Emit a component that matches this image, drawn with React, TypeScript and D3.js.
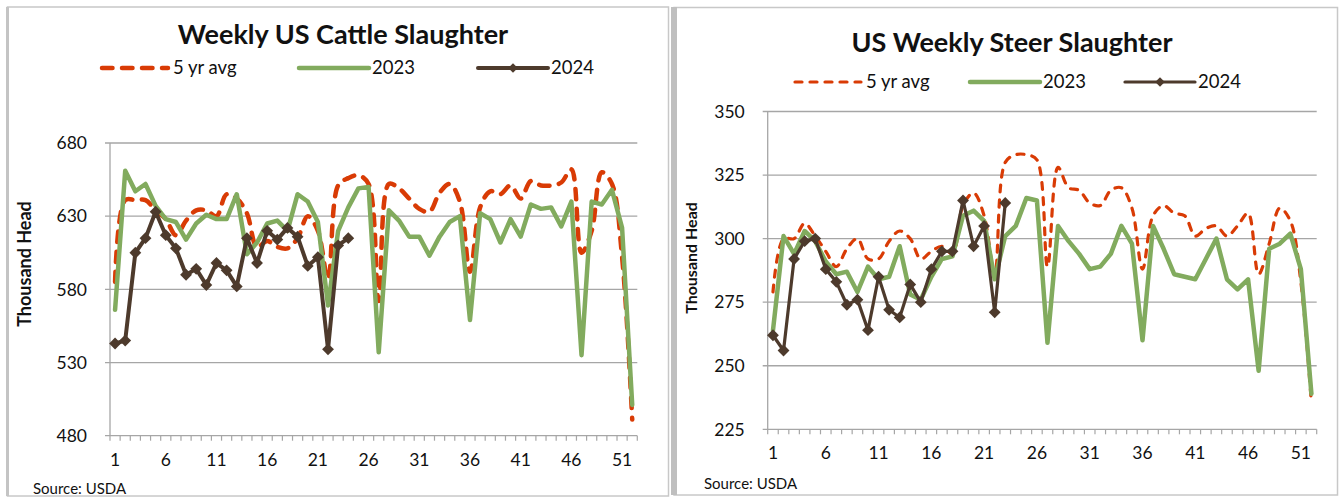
import * as d3 from 'd3';

// week numbers on the category axis
const weeks = Array.from({ length: 52 }, (_, i) => i + 1);
const xTickLabels = [1, 6, 11, 16, 21, 26, 31, 36, 41, 46, 51];

// Weekly US cattle slaughter, thousand head
const cattleTicks = [480, 530, 580, 630, 680];
const cattleAvg = [
  585, 641, 641, 641, 634, 628, 617, 627, 634, 634, 630, 645, 642, 632, 609, 613, 609, 608, 615, 630,
  620, 587, 651, 656, 658, 652, 572, 652, 649, 642, 635, 633, 646, 652, 640, 592, 636, 647, 645, 651,
  642, 654, 651, 651, 653, 662, 605, 620, 660, 652, 602, 491
];
const cattle2023 = [
  566, 661, 647, 652, 637, 628, 626, 614, 625, 631, 628, 628, 645, 604, 612, 625, 627, 620, 645, 640,
  626, 569, 620, 636, 649, 650, 537, 634, 627, 616, 616, 603, 616, 626, 630, 559, 632, 628, 612, 628,
  616, 638, 635, 636, 623, 640, 535, 640, 638, 648, 622, 501
];
const cattle2024 = [
  543, 545, 605, 615, 633, 617, 608, 590, 594, 583, 598, 593, 582, 615, 598, 620, 614, 622, 616, 596,
  602, 539, 610, 615
];

// US weekly steer slaughter, thousand head
const steerTicks = [225, 250, 275, 300, 325, 350];
const steerAvg = [
  279, 300, 300, 306, 301, 295, 289, 296, 300, 292, 292, 299, 303, 300, 292, 295, 297, 294, 313, 318,
  309, 286, 330, 333, 333, 331, 289, 328, 320, 319, 314, 313, 319, 320, 312, 288, 309, 313, 310, 309,
  301, 304, 305, 301, 305, 310, 286, 298, 312, 307, 283, 235
];
const steer2023 = [
  264, 301, 294, 303, 299, 291, 286, 287, 279, 289, 284, 285, 297, 278, 276, 285, 292, 293, 309, 311,
  307, 284, 301, 305, 316, 315, 259, 305, 299, 294, 288, 289, 294, 305, 298, 260, 305, 296, 286, 285,
  284, 292, 300, 284, 280, 284, 248, 296, 298, 302, 288, 239
];
const steer2024 = [
  262, 256, 292, 299, 300, 288, 283, 274, 276, 264, 285, 272, 269, 282, 275, 288, 295, 295, 315, 297,
  305, 271, 314
];

const seriesNames = ['5 yr avg', '2023', '2024'];

const AVG = '#D93B05';
const GREEN = '#82AB5E';
const BROWN = '#4D3A2C';
const GRID = '#A6A6A6';
const FONT = 'Lato, "Open Sans", sans-serif';

type ChartProps = {
  title: string;
  titleX: number;
  titleY: number;
  left: number;
  right: number;
  top: number;
  bottom: number;
  domain: [number, number];
  ticks: number[];
  avg: number[];
  y2023: number[];
  y2024: number[];
  legendY: number;
  legendX: number[];
  avgWidth: number;
  avgDash: string;
  greenWidth: number;
  brownWidth: number;
  yTitleX: number;
  yTitleY: number;
  yTitleSize: number;
  sourceX: number;
  sourceY: number;
};

function Chart(p: ChartProps) {
  const x = d3.scaleBand<number>().domain(weeks).range([p.left, p.right]).paddingInner(0);
  const y = d3.scaleLinear().domain(p.domain).range([p.bottom, p.top]);
  const cx = (i: number) => (x(weeks[i]) as number) + x.bandwidth() / 2;

  const straight = d3
    .line<number>()
    .x((_, i) => cx(i))
    .y((d) => y(d));
  const smooth = d3
    .line<number>()
    .x((_, i) => cx(i))
    .y((d) => y(d))
    .curve(d3.curveCatmullRom.alpha(0.5));

  const diamond = d3.symbol().type(d3.symbolSquare).size(70)() as string;
  const boundaries = d3.range(weeks.length + 1).map((i) => p.left + i * x.bandwidth());
  const legendLen = 70;

  return (
    <g fontFamily={FONT}>
      <text x={p.titleX} y={p.titleY} textAnchor="middle" fontSize={27} fontWeight={700} fill="#111">
        {p.title}
      </text>

      {/* legend */}
      {seriesNames.map((name, i) => {
        const lx = p.legendX[i];
        return (
          <g key={name}>
            {i === 0 && (
              <line
                x1={lx + 2}
                x2={lx + legendLen - 2}
                y1={p.legendY}
                y2={p.legendY}
                stroke={AVG}
                strokeWidth={p.avgWidth}
                strokeDasharray={p.avgDash}
                strokeLinecap="round"
              />
            )}
            {i === 1 && (
              <line x1={lx} x2={lx + legendLen} y1={p.legendY} y2={p.legendY} stroke={GREEN} strokeWidth={p.greenWidth} strokeLinecap="round" />
            )}
            {i === 2 && (
              <g>
                <line x1={lx} x2={lx + legendLen} y1={p.legendY} y2={p.legendY} stroke={BROWN} strokeWidth={p.brownWidth} strokeLinecap="round" />
                <path d={diamond} transform={`translate(${lx + legendLen / 2},${p.legendY}) rotate(45) scale(0.8)`} fill={BROWN} />
              </g>
            )}
            <text x={lx + legendLen + 3} y={p.legendY} dy="0.35em" fontSize={18.5} fill="#111">
              {name}
            </text>
          </g>
        );
      })}

      {/* gridlines and y labels */}
      {p.ticks.map((t) => (
        <g key={t}>
          <line x1={p.left - 5} x2={p.right} y1={y(t)} y2={y(t)} stroke={GRID} strokeWidth={1.3} />
          <text x={p.left - 23} y={y(t)} dy="0.36em" textAnchor="end" fontSize={17.5} fill="#111">
            {t}
          </text>
        </g>
      ))}
      <line x1={p.left} x2={p.left} y1={p.top} y2={p.bottom} stroke={GRID} strokeWidth={1.3} />

      {/* x axis */}
      {boundaries.map((bx, i) => (
        <line key={i} x1={bx} x2={bx} y1={p.bottom} y2={p.bottom + 5} stroke={GRID} strokeWidth={1.2} />
      ))}
      {xTickLabels.map((w) => (
        <text key={w} x={cx(w - 1)} y={p.bottom + 30} textAnchor="middle" fontSize={17.5} fill="#111">
          {w}
        </text>
      ))}

      <text
        transform={`translate(${p.yTitleX},${p.yTitleY}) rotate(-90)`}
        textAnchor="middle"
        dy="0.35em"
        fontSize={p.yTitleSize}
        fontWeight={700}
        fill="#111"
      >
        Thousand Head
      </text>

      {/* series */}
      <path
        d={smooth(p.avg) as string}
        fill="none"
        stroke={AVG}
        strokeWidth={p.avgWidth}
        strokeDasharray={p.avgDash}
        strokeLinecap="round"
      />
      <path d={straight(p.y2023) as string} fill="none" stroke={GREEN} strokeWidth={p.greenWidth} strokeLinejoin="round" strokeLinecap="round" />
      <path d={straight(p.y2024) as string} fill="none" stroke={BROWN} strokeWidth={p.brownWidth} strokeLinejoin="round" />
      {p.y2024.map((v, i) => (
        <path key={i} d={diamond} transform={`translate(${cx(i)},${y(v)}) rotate(45)`} fill={BROWN} />
      ))}

      <text x={p.sourceX} y={p.sourceY} fontSize={15} fill="#111">
        Source: USDA
      </text>
    </g>
  );
}

export default function App(): JSX.Element {
  return (
    <div style={{ position: 'absolute', left: 0, top: 0 }}>
      <svg xmlns="http://www.w3.org/2000/svg" width={1340} height={497} style={{ display: 'block', background: '#fff' }}>
        {/* panel frames */}
        <rect x={7.5} y={7} width={661} height={489} fill="none" stroke="#C8C8C8" strokeWidth={1.5} />
        <line x1={7.5} x2={7.5} y1={7} y2={496} stroke="#C4C4C4" strokeWidth={3} />
        <rect x={674} y={7.5} width={663.5} height={487.5} fill="none" stroke="#C8C8C8" strokeWidth={1.5} />
        <line x1={674} x2={674} y1={7} y2={495} stroke="#BFBFBF" strokeWidth={6} />

        <Chart
          title="Weekly US Cattle Slaughter"
          titleX={343}
          titleY={44}
          left={110}
          right={637.3}
          top={143}
          bottom={435.7}
          domain={[480, 680]}
          ticks={cattleTicks}
          avg={cattleAvg}
          y2023={cattle2023}
          y2024={cattle2024}
          legendY={68}
          legendX={[100, 299, 478]}
          avgWidth={4.5}
          avgDash="10.5 9.5"
          greenWidth={4.5}
          brownWidth={4}
          yTitleX={25}
          yTitleY={264}
          yTitleSize={18}
          sourceX={33}
          sourceY={494}
        />
        <Chart
          title="US Weekly Steer Slaughter"
          titleX={1012}
          titleY={52}
          left={767.7}
          right={1316.7}
          top={111.5}
          bottom={429.3}
          domain={[225, 350]}
          ticks={steerTicks}
          avg={steerAvg}
          y2023={steer2023}
          y2024={steer2024}
          legendY={82}
          legendX={[793, 970, 1125]}
          avgWidth={3.2}
          avgDash="7 8"
          greenWidth={4.5}
          brownWidth={3.2}
          yTitleX={691}
          yTitleY={258}
          yTitleSize={16}
          sourceX={704}
          sourceY={489}
        />
      </svg>
    </div>
  );
}
